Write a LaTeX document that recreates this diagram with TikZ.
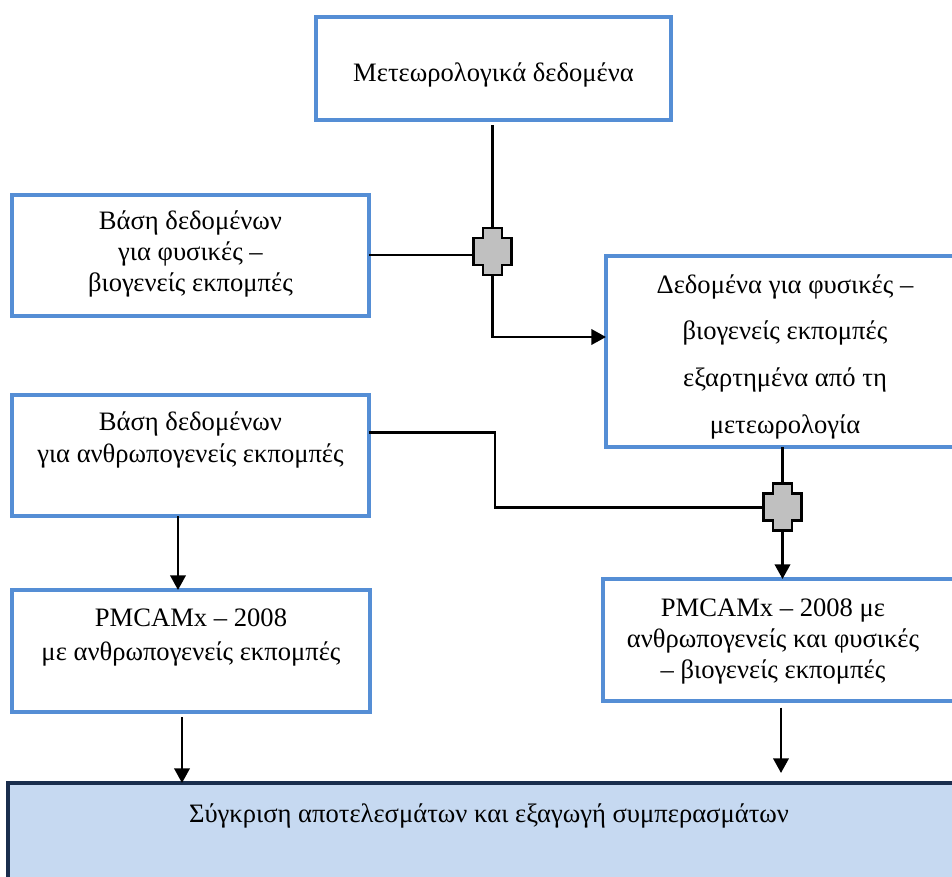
\documentclass[tikz,border=0pt]{standalone}
\usepackage{fontspec}
\setmainfont{Liberation Serif}
\usetikzlibrary{arrows.meta}

\definecolor{frameblue}{HTML}{558ED5}
\definecolor{resultfill}{HTML}{C6D9F1}
\definecolor{resultframe}{HTML}{1A2E4D}
\definecolor{joinfill}{HTML}{C0C0C0}

% one drawing unit
\newlength\px \setlength\px{0.75pt}

% box contents: #1 width, #2 height, #3 first baseline from top,
% #4 line spacing, #5 right offset of the centred text, #6 text
\newcommand\cellbox[6]{%
  \parbox[c][#2\px][t]{#1\px}{%
    \fontsize{19.95pt}{#4}\selectfont
    \centering\rightskip=#5\px plus 1fil\relax
    \rule{0pt}{#3\px}#6}}

% grey cross-shaped junction, drawn on an invisible node
\newcommand\junction[1]{%
  \draw[joinline] (#1.north west) ++(9.5,0) -- ++(19,0) -- ++(0,10)
    -- ++(9.5,0) -- ++(0,27) -- ++(-9.5,0) -- ++(0,10) -- ++(-19,0)
    -- ++(0,-10) -- ++(-9.5,0) -- ++(0,-27) -- ++(9.5,0) -- cycle;}

\tikzset{
  cell/.style={draw=frameblue, line width=3pt, fill=white, inner sep=0pt, outer sep=0pt},
  result/.style={draw=resultframe, line width=3pt, fill=resultfill, inner sep=0pt, outer sep=0pt},
  conn/.style={line width=2pt, draw=black},
  arrowed/.style={conn, -{Triangle[length=11pt,width=11.5pt]}},
  joinbox/.style={inner sep=0pt, outer sep=0pt, minimum width=28.5pt, minimum height=35.25pt},
  joinline/.style={draw=black, fill=joinfill, line width=1.9pt, line join=miter},
}

\begin{document}
\begin{tikzpicture}[x=0.75pt, y=-0.75pt]
\useasboundingbox (0,0) rectangle (952,877);

% boxes
\node[cell] (b1) at (493.5,68.5)
  {\cellbox{355}{103}{65}{23.6pt}{0}{Μετεωρολογικά δεδομένα}};
\node[cell] (b2) at (190.5,255.5)
  {\cellbox{357}{121}{34}{23.6pt}{0}{Βάση δεδομένων\\για φυσικές –\\βιογενείς εκπομπές}};
\node[cell] (b3) at (785,351.5)
  {\cellbox{358}{191}{37}{35pt}{0}{Δεδομένα για φυσικές –\\βιογενείς εκπομπές\\εξαρτημένα από τη\\μετεωρολογία}};
\node[cell] (b4) at (190.5,455.5)
  {\cellbox{357}{121}{35}{24pt}{0}{Βάση δεδομένων\\για ανθρωπογενείς εκπομπές}};
\node[cell] (b5) at (191,651)
  {\cellbox{358}{122}{36}{25.5pt}{0}{PMCAMx – 2008\\με ανθρωπογενείς εκπομπές}};
\node[cell] (b6) at (781.5,640)
  {\cellbox{357}{122}{37}{23.25pt}{17}{PMCAMx – 2008 με\\ανθρωπογενείς και φυσικές\\– βιογενείς εκπομπές}};
\node[result] (b7) at (489,838)
  {\cellbox{962}{110}{39}{23.6pt}{0}{Σύγκριση αποτελεσμάτων και εξαγωγή συμπερασμάτων}};

% junctions
\node[joinbox] (j1) at (492.6,251.7) {};
\node[joinbox] (j2) at (782.5,507.2) {};

% connectors
\coordinate (k1) at (495,432.5);
\coordinate (t6) at (781,773);

\draw[conn, shorten >=3.5pt] (j1.north) -- (j1.north |- b1.south);
\draw[conn] (b2.east |- 0,255) -- (j1.west |- 0,255);
\draw[arrowed] (j1.south) |- (b3.west |- 0,337);

\draw[conn] (j2.north) -- (j2.north |- b3.south);
\draw[conn] (b4.east |- k1) -- (k1) |- (j2.west);
\draw[arrowed] (j2.south) -- (j2.south |- b6.north);

\draw[arrowed] (b4.south -| 178,0) -- (b5.north -| 178,0);
\draw[arrowed, shorten <=4pt] (b5.south -| 182,0) -- (b7.north -| 182,0);
\draw[arrowed, shorten <=5pt] (b6.south -| t6) -- (t6);

\junction{j1}
\junction{j2}
\end{tikzpicture}
\end{document}
